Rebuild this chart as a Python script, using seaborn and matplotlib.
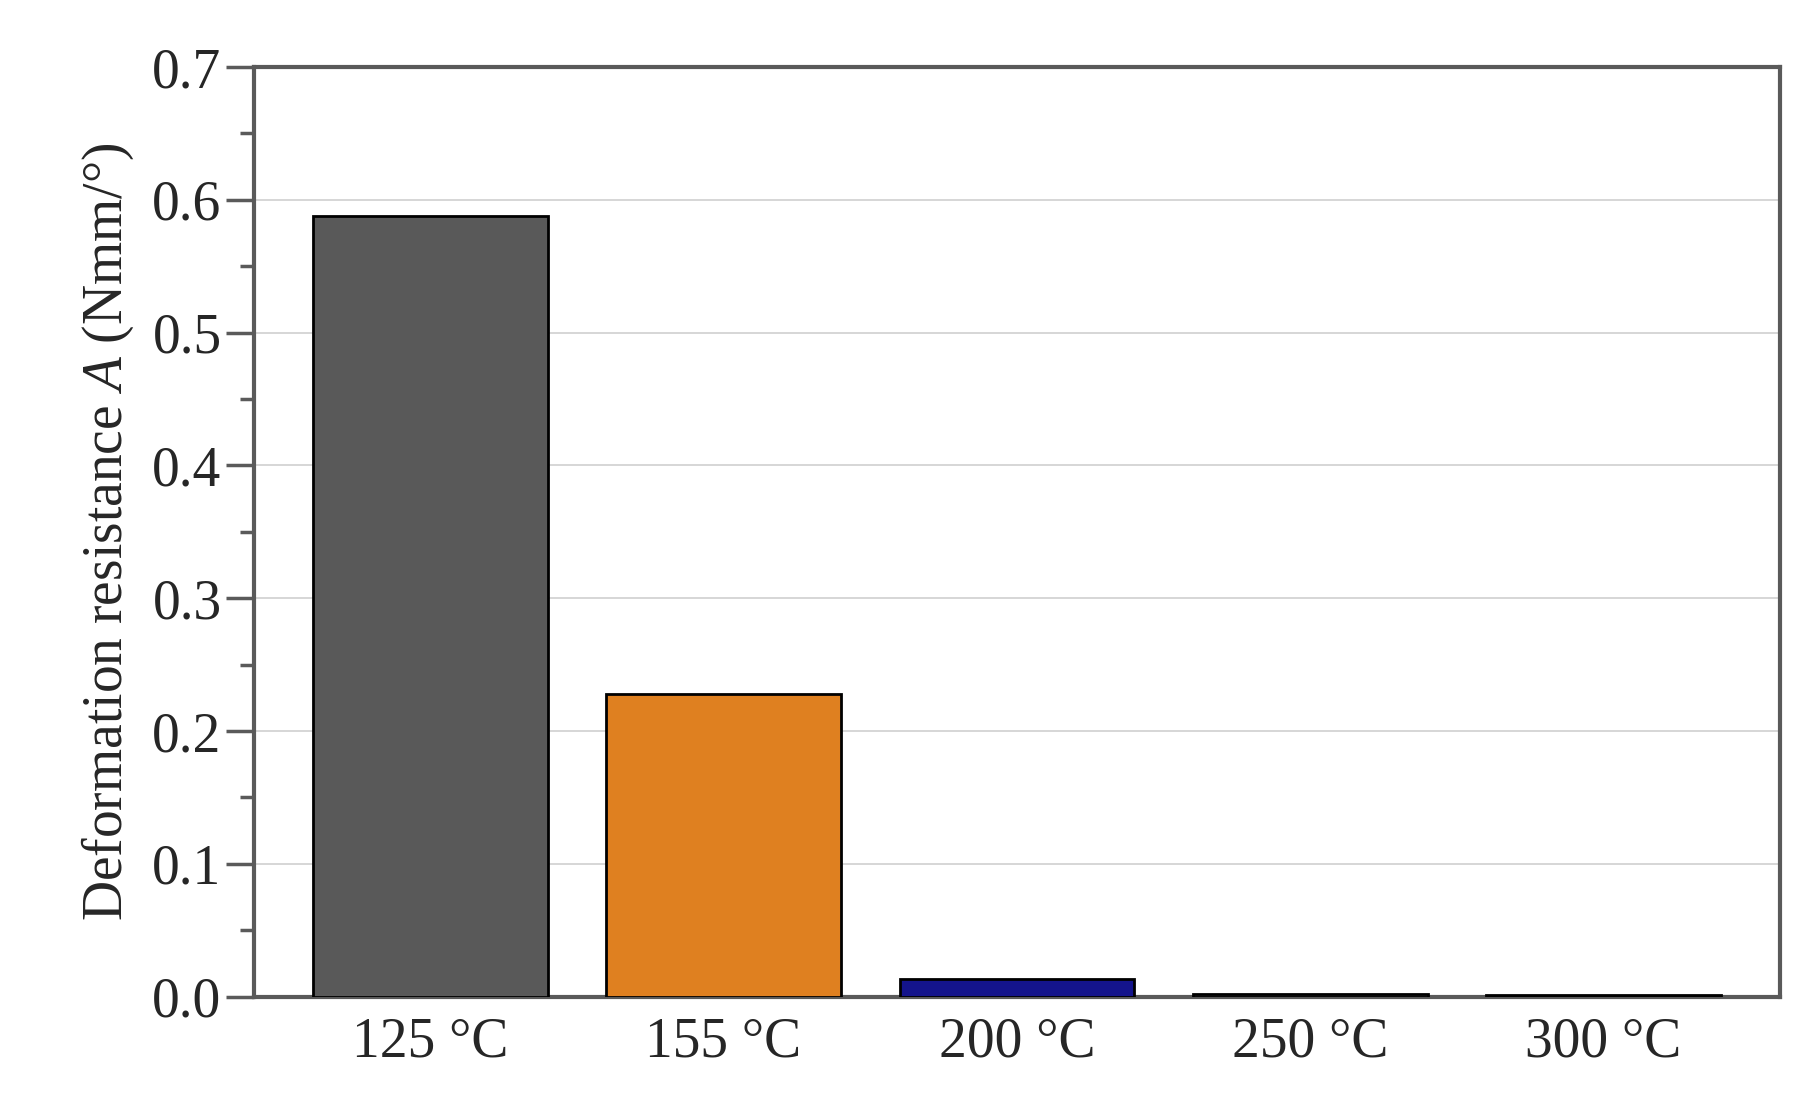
import matplotlib
matplotlib.use('Agg')
import matplotlib.pyplot as plt
import seaborn as sns
from matplotlib.ticker import MultipleLocator

temps = ['125 °C', '155 °C', '200 °C', '250 °C', '300 °C']
resistance = [0.588, 0.228, 0.013, 0.002, 0.001]
colors = ['#595959', '#ff8000', '#0000a0', '#595959', '#595959']

sns.set_style('white')
plt.rcParams['font.family'] = ['Liberation Serif', 'DejaVu Serif']
plt.rcParams['mathtext.fontset'] = 'custom'
plt.rcParams['mathtext.it'] = 'Liberation Serif:italic'
plt.rcParams['mathtext.rm'] = 'Liberation Serif'

fig = plt.figure(figsize=(18.03, 11.0), dpi=100)
ax = fig.add_axes([0.141, 0.094, 0.846, 0.845])

sns.barplot(x=temps, y=resistance, hue=temps, palette=colors, legend=False,
            width=0.8, edgecolor='black', linewidth=2, ax=ax, zorder=3)

ax.set_ylim(0, 0.7)
ax.set_xlim(-0.6, 4.6)
ax.yaxis.set_major_locator(MultipleLocator(0.1))
ax.yaxis.set_minor_locator(MultipleLocator(0.05))
ax.set_yticklabels([f'{v:.1f}' for v in ax.get_yticks()])
ax.grid(axis='y', color='#d0d0d0', linewidth=1.2, zorder=0)
ax.set_axisbelow(True)

for s in ax.spines.values():
    s.set_color('#5a5a5a')
    s.set_linewidth(3)

ax.tick_params(axis='y', which='major', direction='out', length=20, width=2.5,
               color='#5a5a5a', labelsize=40, left=True)
ax.tick_params(axis='y', which='minor', direction='out', length=10, width=2.5,
               color='#5a5a5a', left=True)
ax.tick_params(axis='x', length=0, labelsize=40, pad=14)

ax.set_ylabel('Deformation resistance $\\mathit{A}$ (Nmm/°)', fontsize=40, labelpad=12)
ax.set_xlabel('')

fig.savefig('out.png', dpi=100)
